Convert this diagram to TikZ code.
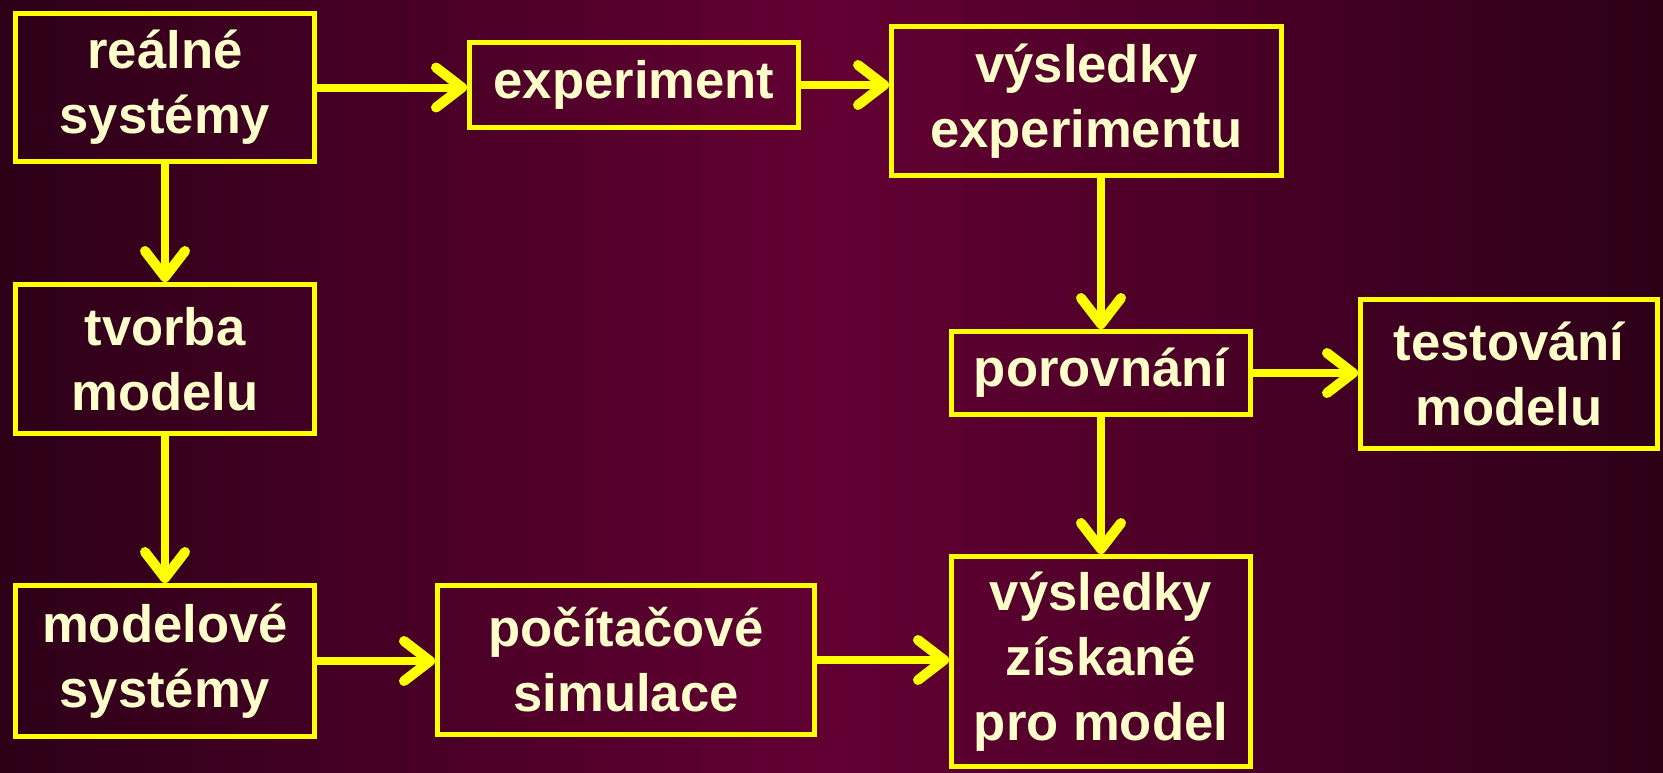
\documentclass[tikz,border=0pt]{standalone}
\usepackage{fontspec}
\setmainfont{Liberation Sans}
\usetikzlibrary{arrows.meta, positioning}
\definecolor{bgedge}{HTML}{2D0018}
\definecolor{bgmid}{HTML}{630033}
\definecolor{boxline}{HTML}{FFFF00}
\definecolor{boxtext}{HTML}{FFFFCC}

\begin{document}
\begin{tikzpicture}[x=0.5pt, y=-0.5pt,
  stage/.style={draw=boxline, line width=2.5pt, text=boxtext, align=center,
    inner sep=0pt, font=\fontsize{26.3}{32.5}\selectfont\bfseries},
  flow/.style={draw=boxline, line width=4pt,
    -{Straight Barb[length=13pt, width=20pt, line width=5pt, round]}}]
  \useasboundingbox (0,0) rectangle (1663,772);
  \shade[left color=bgedge, right color=bgedge, middle color=bgmid] (0,0) rectangle (1663,772);

  \node (real) [stage, minimum width=149.5pt, minimum height=74pt] at (165,87.5) {reálné\\systémy};
  \node (exp) [stage, minimum width=164.5pt, minimum height=42.5pt] at (634,85) {experiment};
  \node (vysexp) [stage, minimum width=195pt, minimum height=74.5pt] at (1086.5,101) {výsledky\\experimentu};
  \node (tvorba) [stage, minimum width=149.5pt, minimum height=74.5pt] at (165,359) {tvorba\\modelu};
  \node (porov) [stage, minimum width=149.5pt, minimum height=41.5pt] at (1101,373) {porovnání};
  \node (test) [stage, minimum width=148.5pt, minimum height=74.5pt] at (1509,374) {testování\\modelu};
  \node (modsys) [stage, minimum width=149.5pt, minimum height=75.5pt] at (165,661) {modelové\\systémy};
  \node (pocsim) [stage, minimum width=188.5pt, minimum height=74.5pt] at (626,660) {počítačové\\simulace};
  \node (vysmod) [stage, minimum width=149.5pt, minimum height=105pt] at (1101,661.5) {výsledky\\získané\\pro model};

  \draw[flow] (real.east) -- (real.east -| exp.west);
  \draw[flow] (exp.east) -- (exp.east -| vysexp.west);
  \draw[flow] (real.south) -- (tvorba.north);
  \draw[flow] (tvorba.south) -- (modsys.north);
  \draw[flow] (vysexp.south -| porov) -- (porov.north);
  \draw[flow] (porov.east) -- (porov.east -| test.west);
  \draw[flow] (porov.south) -- (vysmod.north);
  \draw[flow] (modsys.east) -- (modsys.east -| pocsim.west);
  \draw[flow] (pocsim.east) -- (pocsim.east -| vysmod.west);
\end{tikzpicture}
\end{document}
